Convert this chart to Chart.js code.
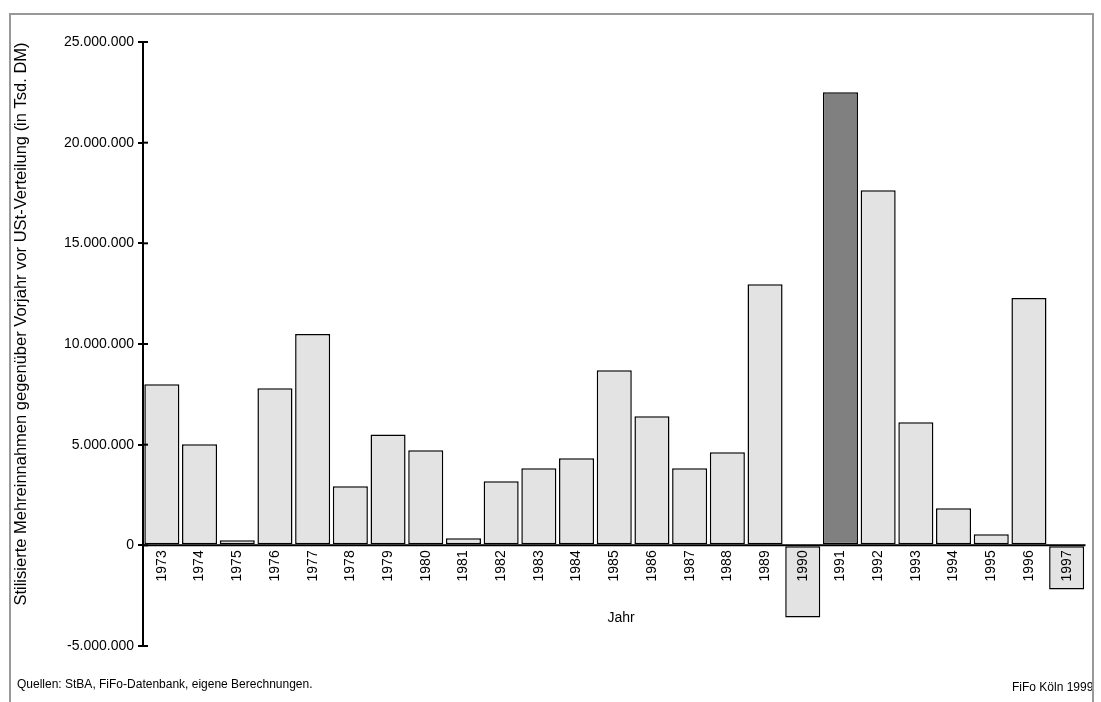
<!DOCTYPE html>
<html><head><meta charset="utf-8">
<script src="https://cdn.jsdelivr.net/npm/chart.js@4"></script>
<style>html,body{margin:0;padding:0;background:#fff}#w{width:1101px;height:702px}</style>
</head><body><div id="w"><canvas id="c"></canvas></div>
<script>
const years = ["1973","1974","1975","1976","1977","1978","1979","1980","1981","1982","1983","1984","1985","1986","1987","1988","1989","1990","1991","1992","1993","1994","1995","1996","1997"];
const values = [8000000,5020000,250000,7800000,10500000,2930000,5500000,4720000,350000,3180000,3830000,4320000,8700000,6410000,3830000,4620000,12970000,-3580000,22500000,17640000,6110000,1840000,550000,12280000,-2190000];
const yTicks = [-5000000,0,5000000,10000000,15000000,20000000,25000000];
const highlightYear = "1991";
const FONT = "'Liberation Sans', Arial, sans-serif";
const fmt = v => v===0 ? "0" : (v<0?"-":"") + Math.abs(v).toString().replace(/\B(?=(\d{3})+(?!\d))/g, ".");

const deco = {
  id:'deco',
  beforeDraw(ch){const c=ch.ctx;c.save();c.fillStyle='#fff';c.fillRect(0,0,ch.width,ch.height);c.restore();},
  afterDraw(ch){
    const c=ch.ctx, x=ch.scales.x, y=ch.scales.y;
    c.save();
    c.strokeStyle='#999';c.lineWidth=2;
    c.beginPath();c.moveTo(10,702);c.lineTo(10,14);c.lineTo(1093,14);c.lineTo(1093,702);c.stroke();
    c.strokeStyle='#000';c.lineWidth=2;
    const y0=y.getPixelForValue(0);
    c.beginPath();c.moveTo(ch.chartArea.left,y0);c.lineTo(ch.chartArea.right,y0);c.stroke();
    yTicks.forEach(v=>{const py=y.getPixelForValue(v);c.beginPath();c.moveTo(143,py);c.lineTo(148,py);c.stroke();});
    c.fillStyle='#000';c.font='14px '+FONT;
    years.forEach((yr,i)=>{
      const px=x.getPixelForValue(i);
      c.save();c.translate(px,y0+5);c.rotate(-Math.PI/2);c.textAlign='right';c.textBaseline='middle';
      c.fillText(yr,0,0);c.restore();
    });
    c.textAlign='center';c.textBaseline='middle';
    c.fillText('Jahr',621,618);
    c.save();c.translate(21,324);c.rotate(-Math.PI/2);c.font='16.5px '+FONT;
    c.fillText('Stilisierte Mehreinnahmen gegenüber Vorjahr vor USt-Verteilung (in Tsd. DM)',0,0);c.restore();
    c.font='12px '+FONT;c.textAlign='left';
    c.fillText('Quellen: StBA, FiFo-Datenbank, eigene Berechnungen.',17,685);
    c.beginPath();c.rect(0,0,1092,702);c.clip();
    c.fillText('FiFo Köln 1999',1012,688);
    c.restore();
  }
};

new Chart(document.getElementById('c'),{
  type:'bar',
  data:{labels:years,datasets:[{data:values,
    backgroundColor:years.map(y=>y===highlightYear?'#808080':'#e3e3e3'),
    borderColor:'#000',borderWidth:1.5,borderSkipped:false,
    barPercentage:0.93,categoryPercentage:1}]},
  options:{responsive:true,maintainAspectRatio:false,animation:false,
    layout:{padding:{left:0,top:42,right:15.5,bottom:56}},
    plugins:{legend:{display:false},tooltip:{enabled:false}},
    scales:{
      x:{display:false},
      y:{min:-5000000,max:25000000,
        afterFit(s){s.width=143;},
        afterBuildTicks(s){s.ticks=yTicks.map(v=>({value:v}));},
        grid:{display:true,drawOnChartArea:false,drawTicks:true,tickLength:5,color:'#000',lineWidth:2},
        border:{display:true,color:'#000',width:2},
        ticks:{color:'#000',font:{family:FONT,size:14},padding:4,callback:v=>fmt(v)}
      }
    }
  },
  plugins:[deco]
});
</script></body></html>
